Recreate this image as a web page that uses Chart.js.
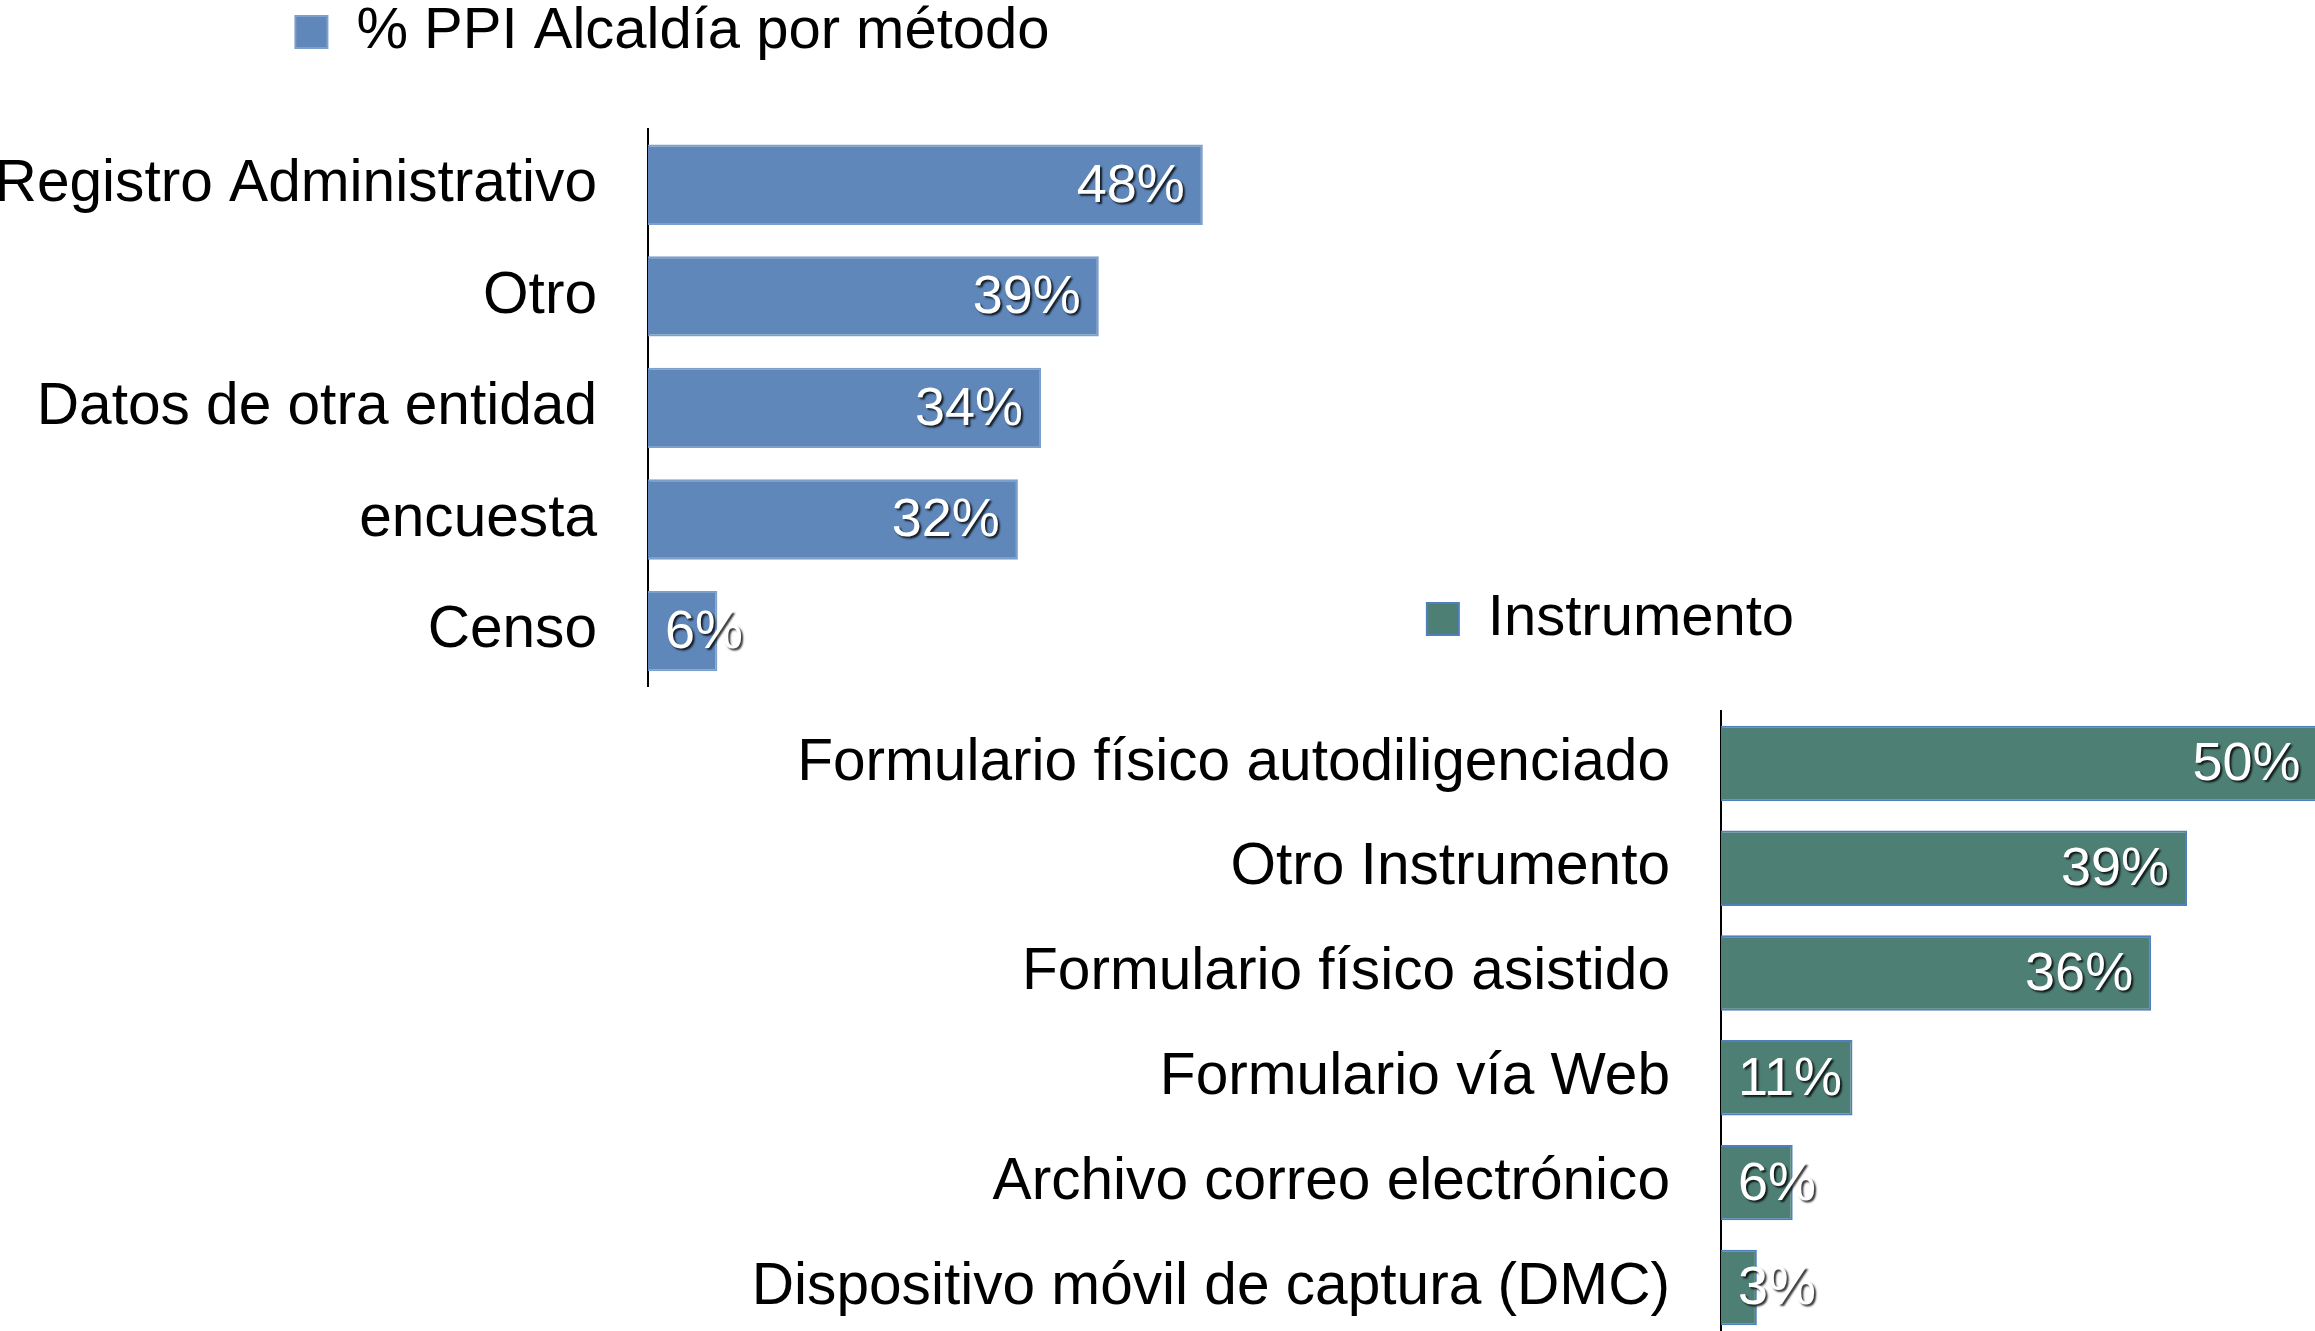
<!DOCTYPE html>
<html>
<head>
<meta charset="utf-8">
<script src="https://cdn.jsdelivr.net/npm/chart.js@4.4.1/dist/chart.umd.min.js"></script>
<style>
    html, body { margin: 0; padding: 0; background: #ffffff; overflow: hidden; width: 2315px; height: 1331px; }
    canvas { position: absolute; }
    #canvas-metodo { left: 0px; top: 0px; }
    #canvas-instrumento { left: 700px; top: 587px; }
</style>
</head>
<body>
<canvas id="canvas-metodo" width="1345" height="773"></canvas>
<canvas id="canvas-instrumento" width="1821" height="839"></canvas>
<script>
// data
var metodoLabels = ['Registro Administrativo', 'Otro', 'Datos de otra entidad', 'encuesta', 'Censo'];
var metodoValues = [48, 39, 34, 32, 6];
var instrumentoLabels = ['Formulario físico autodiligenciado', 'Otro Instrumento', 'Formulario físico asistido',
    'Formulario vía Web', 'Archivo correo electrónico', 'Dispositivo móvil de captura (DMC)'];
var instrumentoValues = [50, 39, 36, 11, 6, 3];

const FONT = '"Liberation Sans", Arial, sans-serif';

// white % labels with a small dark shadow, inside the bar end
const barLabels = {
    id: 'barLabels',
    afterDatasetsDraw(chart) {
        const ctx = chart.ctx;
        const meta = chart.getDatasetMeta(0);
        ctx.save();
        ctx.font = '54px ' + FONT;
        ctx.textAlign = 'left';
        ctx.textBaseline = 'middle';
        ctx.fillStyle = '#ffffff';
        ctx.shadowColor = 'rgba(0,0,0,0.8)';
        ctx.shadowOffsetX = 2;
        ctx.shadowOffsetY = 2;
        ctx.shadowBlur = 2;
        meta.data.forEach((bar, i) => {
            const text = chart.data.datasets[0].data[i] + '%';
            const w = ctx.measureText(text).width;
            const x = Math.max(bar.x - 18 - w, bar.base + 17);
            ctx.fillText(text, x, bar.y + 2);
        })
        ctx.restore();
    }
};

function makeConfig(labels, values, name, fill, border, axisWidth, xMax, gapTop) {
    return {
        type: 'bar',
        data: {
            labels: labels,
            datasets: [
                {
                    label: name,
                    data: values,
                    backgroundColor: fill,
                    borderColor: border,
                    borderWidth: 2,
                    barPercentage: 0.9,
                    categoryPercentage: 0.8,
                }
            ]
        },
        options: {
            indexAxis: 'y',
            responsive: false,
            animation: false,
            devicePixelRatio: 1,
            layout: { padding: 0 },
            plugins: {
                tooltip: { enabled: false },
                legend: {
                    display: true,
                    position: 'top',
                    labels: {
                        color: '#000000',
                        font: { size: 58, family: FONT },
                        boxWidth: 32,
                        boxHeight: 32,
                        padding: 3,
                    }
                }
            },
            scales: {
                x: {
                    position: 'top',
                    min: 0,
                    max: xMax,
                    grid: { display: false },
                    border: { display: false },
                    ticks: { display: false },
                    afterFit: (s) => { s.height = gapTop; }
                },
                y: {
                    grid: { display: false, drawTicks: false },
                    border: { display: true, color: '#000000', width: 2 },
                    ticks: {
                        color: '#000000',
                        font: { size: 58.6, family: FONT },
                        padding: 51,
                    },
                    afterFit: (s) => { s.width = axisWidth; }
                }
            }
        },
        plugins: [barLabels]
    };
}

window.addEventListener('load', () => {
    var ctx_metodo = document.getElementById('canvas-metodo').getContext('2d');
    var ctx_instr = document.getElementById('canvas-instrumento').getContext('2d');
    new Chart(ctx_metodo, makeConfig(metodoLabels, metodoValues, '% PPI Alcaldía por método',
        '#5F87BA', '#7C9FCC', 648, 60.3, 58));
    new Chart(ctx_instr, makeConfig(instrumentoLabels, instrumentoValues, 'Instrumento',
        '#4E7F75', '#4F7FBF', 1021, 66.95, 53));
})
</script>
</body>
</html>
